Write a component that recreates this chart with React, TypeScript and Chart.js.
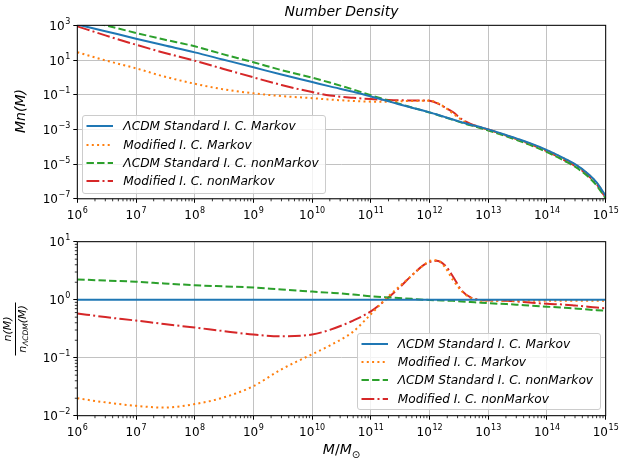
import React, { useEffect, useRef } from "react";
import { Chart, registerables } from "chart.js";
Chart.register(...registerables);

// ---------- data ----------
const massValues = [
  1e6, 3e6, 1e7, 3e7, 1e8, 3e8, 1e9, 3e9, 1e10, 2e10, 5e10, 1e11, 2e11, 3e11, 5e11, 8e11,
  1e12, 1.3e12, 1.8e12, 2.5e12, 3.5e12, 5e12, 7e12, 1e13, 2e13, 3e13, 5e13, 1e14, 2e14,
  3e14, 5e14, 7e14, 1e15,
];

// top panel: log10( M n(M) )
const topStdMarkovLog = [
  3.05, 2.66, 2.23, 1.85, 1.44, 1.03, 0.58, 0.16, -0.27, -0.52, -0.83, -1.1, -1.38, -1.55, -1.75,
  -1.93, -2.02, -2.13, -2.28, -2.43, -2.58, -2.73, -2.85, -3.0, -3.32, -3.52, -3.78, -4.19, -4.68,
  -5.0, -5.55, -6.05, -6.83,
];
const topModMarkovLog = [
  1.45, 0.98, 0.52, 0.05, -0.37, -0.68, -0.92, -1.08, -1.2, -1.28, -1.36, -1.4, -1.4, -1.38, -1.36,
  -1.35, -1.34, -1.45, -1.72, -2.08, -2.45, -2.72, -2.87, -3.02, -3.34, -3.54, -3.8, -4.21, -4.7,
  -5.02, -5.57, -6.07, -6.85,
];
const topStdNonMarkovLog = [
  3.4, 3.0, 2.56, 2.18, 1.79, 1.34, 0.87, 0.42, -0.02, -0.3, -0.7, -1.03, -1.34, -1.52, -1.74,
  -1.93, -2.03, -2.14, -2.295, -2.45, -2.61, -2.77, -2.9, -3.06, -3.39, -3.6, -3.88, -4.31, -4.82,
  -5.15, -5.72, -6.23, -6.98,
];
const topModNonMarkovLog = [
  2.94, 2.42, 1.88, 1.42, 0.96, 0.5, 0.0, -0.44, -0.85, -1.04, -1.18, -1.25, -1.3, -1.32, -1.33,
  -1.33, -1.35, -1.47, -1.72, -2.0, -2.4, -2.68, -2.85, -3.01, -3.35, -3.55, -3.83, -4.26, -4.78,
  -5.1, -5.65, -6.15, -6.95,
];

// bottom panel: log10( n(M) / n_LCDM(M) )
const ratioStdMarkovLog = [
  0, 0, 0, 0, 0, 0, 0, 0, 0, 0, 0, 0, 0, 0, 0, 0, 0, 0, 0, 0, 0, 0, 0, 0, 0, 0, 0, 0, 0, 0, 0, 0, 0,
];
const ratioModMarkovLog = [
  -1.7, -1.77, -1.83, -1.86, -1.8, -1.69, -1.49, -1.2, -0.94, -0.79, -0.55, -0.25, 0.06, 0.22, 0.42,
  0.6, 0.67, 0.68, 0.57, 0.34, 0.15, 0.03, -0.01, -0.02, -0.02, -0.02, -0.02, -0.02, -0.02, -0.02,
  -0.02, -0.02, -0.02,
];
const ratioStdNonMarkovLog = [
  0.35, 0.33, 0.31, 0.28, 0.25, 0.23, 0.21, 0.175, 0.14, 0.12, 0.09, 0.06, 0.04, 0.03, 0.015, 0.0,
  -0.005, -0.01, -0.015, -0.02, -0.03, -0.04, -0.05, -0.06, -0.075, -0.085, -0.1, -0.12, -0.14,
  -0.15, -0.17, -0.18, -0.19,
];
const ratioModNonMarkovLog = [
  -0.236, -0.3, -0.36, -0.42, -0.48, -0.54, -0.6, -0.63, -0.6, -0.52, -0.36, -0.2, 0.04, 0.2, 0.42,
  0.6, 0.65, 0.67, 0.6, 0.4, 0.16, 0.04, 0.0, -0.01, -0.02, -0.03, -0.05, -0.07, -0.085, -0.1,
  -0.12, -0.135, -0.15,
];

const seriesLabels = [
  "ΛCDM Standard I. C. Markov",
  "Modified I. C. Markov",
  "ΛCDM Standard I. C. nonMarkov",
  "Modified I. C. nonMarkov",
];

const xTickValues = [1e6, 1e7, 1e8, 1e9, 1e10, 1e11, 1e12, 1e13, 1e14, 1e15];
const topYTickValues = [1e-7, 1e-5, 1e-3, 1e-1, 1e1, 1e3];
const bottomYTickValues = [1e-2, 1e-1, 1e0, 1e1];

// ---------- styles ----------
const FONT = "'DejaVu Sans', sans-serif";
const GRID = "#c2c2c2";
const seriesStyles = [
  { color: "#1f77b4", dash: [] as number[] },
  { color: "#ff7f0e", dash: [2, 3.3] },
  { color: "#2ca02c", dash: [7.4, 3.2] },
  { color: "#d62728", dash: [12.8, 3.2, 2, 3.2] },
];

function drawPow(ctx: CanvasRenderingContext2D, value: number, x: number, baseY: number, align: "center" | "right") {
  const exp = Math.round(Math.log10(value));
  const expStr = exp < 0 ? "\u2212" + Math.abs(exp) : String(exp);
  ctx.font = `12px ${FONT}`;
  const w1 = ctx.measureText("10").width;
  ctx.font = `8px ${FONT}`;
  const w2 = ctx.measureText(expStr).width;
  const total = w1 + 0.6 + w2;
  const sx = align === "center" ? x - total / 2 : x - total;
  ctx.textAlign = "left";
  ctx.textBaseline = "alphabetic";
  ctx.fillStyle = "#000";
  ctx.font = `12px ${FONT}`;
  ctx.fillText("10", sx, baseY);
  ctx.font = `8px ${FONT}`;
  ctx.fillText(expStr, sx + w1 + 0.6, baseY - 6);
}

function makeDatasets(seriesLogs: number[][]) {
  return seriesLogs.map((logs, i) => ({
    label: seriesLabels[i],
    data: massValues.map((m, j) => ({ x: m, y: Math.pow(10, logs[j]) })),
    borderColor: seriesStyles[i].color,
    backgroundColor: seriesStyles[i].color,
    borderDash: seriesStyles[i].dash,
    borderWidth: 2,
    pointRadius: 0,
    fill: false,
    cubicInterpolationMode: "monotone" as const,
  }));
}

function makeConfig(opts: {
  datasets: any[];
  yMin: number;
  yMax: number;
  yTicks: number[];
  canvasH: number;
  areaTop: number;
  areaBottom: number;
  yMinor: boolean;
}): any {
  const left = 77.3;
  const right = 605.7;
  const framePlugin = {
    id: "frameMinor",
    afterDraw(chart: any) {
      const { ctx, chartArea: a, scales } = chart;
      ctx.save();
      ctx.strokeStyle = "#000";
      ctx.lineWidth = 0.8;
      ctx.beginPath();
      for (let i = 0; i < xTickValues.length - 1; i++) {
        for (let k = 2; k <= 9; k++) {
          const px = scales.x.getPixelForValue(k * xTickValues[i]);
          ctx.moveTo(px, a.bottom);
          ctx.lineTo(px, a.bottom + 2.5);
        }
      }
      if (opts.yMinor) {
        for (let i = 0; i < opts.yTicks.length - 1; i++) {
          for (let k = 2; k <= 9; k++) {
            const py = scales.y.getPixelForValue(k * opts.yTicks[i]);
            ctx.moveTo(a.left, py);
            ctx.lineTo(a.left - 2.5, py);
          }
        }
      }
      ctx.stroke();
      ctx.lineWidth = 1;
      ctx.strokeRect(a.left, a.top, a.right - a.left, a.bottom - a.top);
      // tick labels (10 with superscript exponent)
      xTickValues.forEach((v) => drawPow(ctx, v, scales.x.getPixelForValue(v), a.bottom + 20.5, "center"));
      opts.yTicks.forEach((v) => drawPow(ctx, v, a.left - 7, scales.y.getPixelForValue(v) + 4.5, "right"));
      ctx.restore();
    },
  };
  return {
    type: "line",
    data: { datasets: opts.datasets },
    plugins: [framePlugin],
    options: {
      responsive: false,
      animation: false,
      devicePixelRatio: 1,
      layout: { padding: { top: opts.areaTop, left: 0, right: 620 - right, bottom: 0 } },
      plugins: { legend: { display: false }, title: { display: false }, tooltip: { enabled: false } },
      scales: {
        x: {
          type: "logarithmic",
          min: 1e6,
          max: 1e15,
          border: { display: false },
          grid: { color: GRID, lineWidth: 1, tickColor: "#000", tickLength: 4, tickWidth: 1 },
          ticks: { display: false },
          afterBuildTicks: (s: any) => {
            s.ticks = xTickValues.map((v) => ({ value: v }));
          },
          afterFit: (s: any) => {
            s.height = opts.canvasH - opts.areaBottom;
            s.paddingLeft = 0;
            s.paddingRight = 0;
          },
        },
        y: {
          type: "logarithmic",
          min: opts.yMin,
          max: opts.yMax,
          border: { display: false },
          grid: { color: GRID, lineWidth: 1, tickColor: "#000", tickLength: 4, tickWidth: 1 },
          ticks: { display: false },
          afterBuildTicks: (s: any) => {
            s.ticks = opts.yTicks.map((v) => ({ value: v }));
          },
          afterFit: (s: any) => {
            s.width = left;
            s.paddingTop = 0;
            s.paddingBottom = 0;
          },
        },
      },
    },
  };
}

function ChartCanvas({ config, top, height }: { config: any; top: number; height: number }) {
  const ref = useRef<HTMLCanvasElement>(null);
  useEffect(() => {
    const chart = new Chart(ref.current as HTMLCanvasElement, config);
    return () => chart.destroy();
  }, []);
  return (
    <canvas
      ref={ref}
      width={620}
      height={height}
      style={{ position: "absolute", left: 0, top, width: 620, height }}
    />
  );
}

function Legend({ left, top, width, height }: { left: number; top: number; width: number; height: number }) {
  const rows = [10, 28.4, 46.7, 65];
  return (
    <div
      style={{
        position: "absolute",
        left,
        top,
        width,
        height,
        boxSizing: "border-box",
        border: "1px solid #cccccc",
        borderRadius: 3,
        background: "rgba(255,255,255,0.8)",
        fontFamily: FONT,
      }}
    >
      {seriesLabels.map((lab, i) => (
        <div
          key={lab}
          style={{ position: "absolute", left: 0, top: rows[i] - 8, height: 16, width: width - 2 }}
        >
          <svg width={34} height={16} style={{ position: "absolute", left: 0, top: 0 }}>
            <line
              x1={3.5}
              x2={30}
              y1={8}
              y2={8}
              stroke={seriesStyles[i].color}
              strokeWidth={2}
              strokeDasharray={seriesStyles[i].dash.join(" ")}
            />
          </svg>
          <span
            style={{
              position: "absolute",
              left: 40,
              top: 0,
              lineHeight: "16px",
              fontSize: 12.2,
              fontStyle: "italic",
              whiteSpace: "nowrap",
              color: "#000",
            }}
          >
            {lab}
          </span>
        </div>
      ))}
    </div>
  );
}

export default function App() {
  const topConfig = makeConfig({
    datasets: makeDatasets([topStdMarkovLog, topModMarkovLog, topStdNonMarkovLog, topModNonMarkovLog]),
    yMin: 1e-7,
    yMax: 1e3,
    yTicks: topYTickValues,
    canvasH: 230,
    areaTop: 25.3,
    areaBottom: 198.8,
    yMinor: false,
  });
  const bottomConfig = makeConfig({
    datasets: makeDatasets([ratioStdMarkovLog, ratioModMarkovLog, ratioStdNonMarkovLog, ratioModNonMarkovLog]),
    yMin: 1e-2,
    yMax: 1e1,
    yTicks: bottomYTickValues,
    canvasH: 235,
    areaTop: 11.7,
    areaBottom: 185.7,
    yMinor: true,
  });
  return (
    <div
      style={{
        position: "absolute",
        left: 0,
        top: 0,
        width: 620,
        height: 465,
        background: "#fff",
        fontFamily: FONT,
        color: "#000",
      }}
    >
      <ChartCanvas config={topConfig} top={0} height={230} />
      <ChartCanvas config={bottomConfig} top={230} height={235} />

      <div
        style={{
          position: "absolute",
          left: 341.5,
          top: 3,
          transform: "translateX(-50%)",
          fontSize: 14,
          fontStyle: "italic",
          whiteSpace: "nowrap",
        }}
      >
        Number Density
      </div>

      <div
        style={{
          position: "absolute",
          left: 20,
          top: 111,
          transform: "translate(-50%, -50%) rotate(-90deg)",
          fontSize: 14,
          fontStyle: "italic",
          whiteSpace: "nowrap",
        }}
      >
        Mn(M)
      </div>

      <div
        style={{
          position: "absolute",
          left: 16,
          top: 329,
          transform: "translate(-50%, -50%) rotate(-90deg)",
          display: "flex",
          flexDirection: "column",
          alignItems: "center",
          whiteSpace: "nowrap",
          fontSize: 11,
          lineHeight: "12px",
        }}
      >
        <span style={{ fontStyle: "italic" }}>n(M)</span>
        <div style={{ width: 53, borderTop: "1.3px solid #000", margin: "1px 0 1px 0" }} />
        <span>
          <i>n</i>
          <i style={{ fontSize: 7.5, position: "relative", top: 2 }}>ΛCDM</i>
          <i>(M)</i>
        </span>
      </div>

      <div
        style={{
          position: "absolute",
          left: 341.5,
          top: 441,
          transform: "translateX(-50%)",
          fontSize: 14,
          whiteSpace: "nowrap",
        }}
      >
        <i>M</i>/<i>M</i>
        <span style={{ fontSize: 10, position: "relative", top: 4 }}>⊙</span>
      </div>

      <Legend left={82.3} top={115.3} width={243.4} height={78.7} />
      <Legend left={356.7} top={332.7} width={244} height={77.6} />
    </div>
  );
}
